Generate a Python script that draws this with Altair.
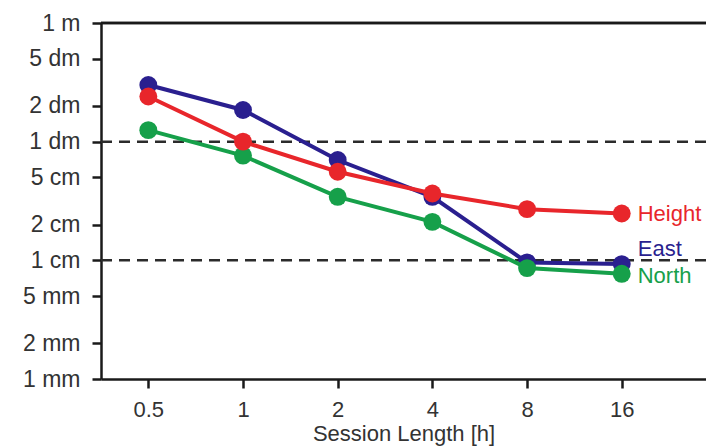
import altair as alt
import pandas as pd

# ---- data ----
hours = [0.5, 1, 2, 4, 8, 16]
east = [0.30, 0.185, 0.070, 0.0343, 0.0096, 0.0093]
north = [0.125, 0.0762, 0.0343, 0.0211, 0.0086, 0.0077]
height = [0.24, 0.100, 0.0558, 0.0366, 0.0270, 0.0248]
series_names = ["East", "North", "Height"]
series_colors = ["#2a1f8f", "#16a04a", "#e8262b"]
y_tick_values = [0.001, 0.002, 0.005, 0.01, 0.02, 0.05, 0.1, 0.2, 0.5, 1]
y_tick_labels = ["1 mm", "2 mm", "5 mm", "1 cm", "2 cm", "5 cm",
                 "1 dm", "2 dm", "5 dm", "1 m"]
reference_levels = [0.1, 0.01]
x_title = "Session Length [h]"

series_values = {"East": east, "North": north, "Height": height}
label_dy = {"East": -15, "North": 2, "Height": 0}

FONT = "Liberation Sans"
W, H = 605, 356

x_scale = alt.Scale(type="log", base=2, domain=[0.3536, 29.65], nice=False)
y_scale = alt.Scale(type="log", domain=[0.001, 1], nice=False)

label_expr = "[" + ",".join("'%s'" % s for s in y_tick_labels) + "][indexof([" + \
    ",".join(repr(v) for v in y_tick_values) + "], datum.value)]"

x_axis = alt.Axis(values=hours, format="~g", title=x_title, labelPadding=11,
                  titlePadding=3, labelFontSize=22, titleFontSize=22)
y_axis = alt.Axis(values=y_tick_values, labelExpr=label_expr, title=None,
                  labelPadding=12, labelFontSize=23)

layers = []

# dashed reference lines
ref_df = pd.DataFrame({"level": reference_levels})
layers.append(
    alt.Chart(ref_df).mark_rule(color="#2b2b2b", strokeWidth=2.5, strokeDash=[11, 7])
    .encode(y=alt.Y("level:Q", scale=y_scale, axis=y_axis))
)

# top frame line
layers.append(
    alt.Chart(ref_df).mark_rule(color="#1a1a1a", strokeWidth=2.5)
    .encode(y=alt.value(0), x=alt.value(0), x2=alt.value(W))
)

for name, col in zip(series_names, series_colors):
    df = pd.DataFrame({"hours": hours, "value": series_values[name]})
    enc = dict(
        x=alt.X("hours:Q", scale=x_scale, axis=x_axis),
        y=alt.Y("value:Q", scale=y_scale, axis=y_axis),
    )
    layers.append(alt.Chart(df).mark_line(color=col, strokeWidth=4).encode(**enc))
    layers.append(alt.Chart(df).mark_circle(color=col, size=320, opacity=1).encode(**enc))
    last = df.tail(1).assign(label=name)
    layers.append(
        alt.Chart(last).mark_text(color=col, align="left", baseline="middle",
                                  dx=16, dy=label_dy[name], font=FONT, fontSize=22)
        .encode(x=alt.X("hours:Q", scale=x_scale, axis=x_axis),
                y=alt.Y("value:Q", scale=y_scale, axis=y_axis),
                text="label:N")
    )

chart = (
    alt.layer(*layers)
    .properties(width=W, height=H,
                autosize=alt.AutoSizeParams(type="none"),
                padding={"left": 93, "top": 15, "right": 0, "bottom": 67})
    .configure_view(stroke=None)
    .configure_axis(grid=False, domainColor="#1a1a1a", domainWidth=2.5,
                    tickColor="#1a1a1a", tickWidth=2.5, tickSize=9,
                    labelColor="#333333", titleColor="#333333",
                    labelFont=FONT, titleFont=FONT, titleFontWeight="normal")
)

chart.save("out.html", embed_options={"renderer": "svg", "actions": False})
